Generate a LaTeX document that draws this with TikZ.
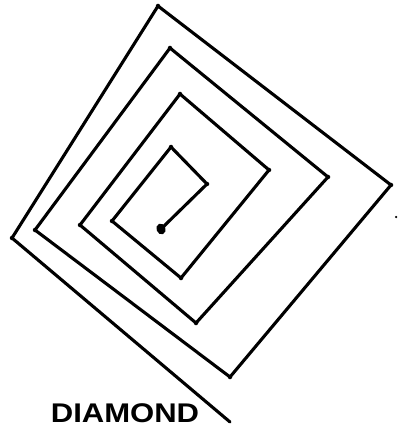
\documentclass[tikz,border=0pt]{standalone}
\usepackage{fontspec}
\setmainfont{Liberation Sans}
\usetikzlibrary{shapes.geometric}
\begin{document}
\begin{tikzpicture}[x=1pt,y=-1pt,
  pen/.style={line width=3.1pt,line join=round,line cap=round,black},
  blob/.style={fill=black,circle,inner sep=0pt,minimum size=4.5pt},
  label/.style={font=\fontsize{27}{27}\selectfont,xscale=1.15,inner sep=0pt}]
\useasboundingbox (0,0) rectangle (400,430);
\coordinate (s0) at (161,229);
\coordinate (s1) at (207,184);
\coordinate (s2) at (171,147);
\coordinate (s3) at (112,221);
\coordinate (s4) at (181,278);
\coordinate (s5) at (269,170);
\coordinate (s6) at (180,94);
\coordinate (s7) at (80,225);
\coordinate (s8) at (196,323);
\coordinate (s9) at (328,177);
\coordinate (s10) at (170,48);
\coordinate (s11) at (35,230);
\coordinate (s12) at (230,377);
\coordinate (s13) at (391,185);
\coordinate (s14) at (158,6);
\coordinate (s15) at (12,238);
\coordinate (s16) at (230,422);
\draw[pen] (s0) -- (s1) -- (s2) -- (s3) -- (s4) -- (s5) -- (s6) -- (s7) -- (s8)
  -- (s9) -- (s10) -- (s11) -- (s12) -- (s13) -- (s14) -- (s15) -- (s16);
\foreach \p in {s1,s2,s3,s4,s5,s6,s7,s8,s9,s10,s11,s12,s13,s14,s15}
  \node[blob] at (\p) {};
\node[fill=black,ellipse,minimum width=9pt,minimum height=11pt,inner sep=0pt,rotate=20] (start) at (s0) {};
\node[fill=black,circle,inner sep=0pt,minimum size=2.5pt] (speck) at (396,217) {};
\node[label] (title) at (125,413) {\bfseries DIAMOND};
\end{tikzpicture}
\end{document}
